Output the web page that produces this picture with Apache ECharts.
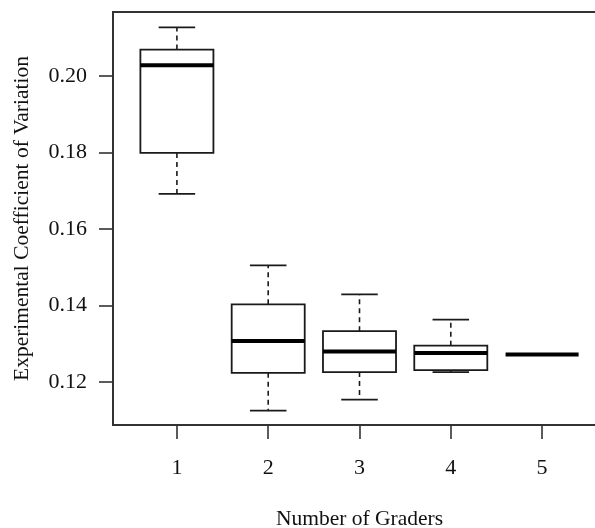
<!DOCTYPE html>
<html>
<head>
<meta charset="utf-8">
<script src="https://cdn.jsdelivr.net/npm/echarts@6/dist/echarts.min.js"></script>
<style>
html,body{margin:0;padding:0;background:#fff;}
#chart{width:595px;height:528px;}
</style>
</head>
<body>
<div id="chart"></div>
<script>
// Number of graders (categories)
var graders = [1, 2, 3, 4, 5];
// Box statistics
var whiskerLow  = [0.1692, 0.1125, 0.1154, 0.1226, 0.1272];
var q1          = [0.1799, 0.1224, 0.1226, 0.1231, 0.1272];
var median      = [0.2028, 0.1307, 0.1280, 0.1276, 0.1272];
var q3          = [0.2069, 0.1403, 0.1333, 0.1295, 0.1272];
var whiskerHigh = [0.2127, 0.1505, 0.1429, 0.1363, 0.1272];
// Tick labels
var yTicks = [0.12, 0.14, 0.16, 0.18, 0.20];
var xTicks = [1, 2, 3, 4, 5];

var data = graders.map(function (g, i) {
  return [g, whiskerLow[i], q1[i], median[i], q3[i], whiskerHigh[i]];
});

var FONT = '"Liberation Serif", "DejaVu Serif", serif';
var LINE = '#1a1a1a';

function renderItem(params, api) {
  var x = api.value(0);
  var lo = api.coord([x, api.value(1)]);
  var b1 = api.coord([x, api.value(2)]);
  var md = api.coord([x, api.value(3)]);
  var b3 = api.coord([x, api.value(4)]);
  var hi = api.coord([x, api.value(5)]);
  var left = api.coord([x - 0.4, api.value(3)])[0];
  var right = api.coord([x + 0.4, api.value(3)])[0];
  var capL = api.coord([x - 0.2, api.value(3)])[0];
  var capR = api.coord([x + 0.2, api.value(3)])[0];
  var cx = md[0];
  var children = [];
  var boxH = b1[1] - b3[1];
  if (boxH > 0.5) {
    children.push({
      type: 'rect',
      shape: { x: left, y: b3[1], width: right - left, height: boxH },
      style: { fill: '#fff', stroke: LINE, lineWidth: 1.8 }
    });
  }
  if (hi[1] < b3[1] - 0.5) {
    children.push({
      type: 'line',
      shape: { x1: cx, y1: b3[1], x2: cx, y2: hi[1] },
      style: { stroke: LINE, lineWidth: 1.6, lineDash: [5, 4] }
    });
    children.push({
      type: 'line',
      shape: { x1: capL, y1: hi[1], x2: capR, y2: hi[1] },
      style: { stroke: LINE, lineWidth: 1.8 }
    });
  }
  if (lo[1] > b1[1] + 0.3) {
    children.push({
      type: 'line',
      shape: { x1: cx, y1: b1[1], x2: cx, y2: lo[1] },
      style: { stroke: LINE, lineWidth: 1.6, lineDash: [5, 4] }
    });
    children.push({
      type: 'line',
      shape: { x1: capL, y1: lo[1], x2: capR, y2: lo[1] },
      style: { stroke: LINE, lineWidth: 1.8 }
    });
  }
  children.push({
    type: 'line',
    shape: { x1: left, y1: md[1], x2: right, y2: md[1] },
    style: { stroke: '#000', lineWidth: 4 }
  });
  return { type: 'group', children: children };
}

var chart = echarts.init(document.getElementById('chart'), null, { renderer: 'canvas' });
chart.setOption({
  animation: false,
  backgroundColor: '#fff',
  grid: {
    show: true,
    left: 113, top: 12, width: 493, height: 413,
    outerBoundsMode: 'none',
    containLabel: false,
    borderColor: '#333', borderWidth: 2,
    backgroundColor: 'transparent'
  },
  xAxis: {
    type: 'value',
    min: 0.3, max: 5.7,
    name: 'Number of Graders',
    nameLocation: 'middle',
    nameGap: 83,
    nameTextStyle: { fontFamily: FONT, fontSize: 21.5, color: '#111' },
    axisLine: { show: false },
    splitLine: { show: false },
    axisTick: { show: true, length: 14, customValues: xTicks, lineStyle: { color: '#333', width: 1.6 } },
    axisLabel: { customValues: xTicks, margin: 32, fontFamily: FONT, fontSize: 22, color: '#111' }
  },
  yAxis: {
    type: 'value',
    min: 0.10876, max: 0.21673,
    name: 'Experimental Coefficient of Variation',
    nameLocation: 'middle',
    nameGap: 80,
    nameTextStyle: { fontFamily: FONT, fontSize: 21.5, color: '#111' },
    axisLine: { show: false },
    splitLine: { show: false },
    axisTick: { show: true, length: 14, customValues: yTicks, lineStyle: { color: '#333', width: 1.6 } },
    axisLabel: {
      customValues: yTicks, margin: 26, fontFamily: FONT, fontSize: 22, color: '#111',
      formatter: function (v) { return v.toFixed(2); }
    }
  },
  series: [{
    type: 'custom',
    renderItem: renderItem,
    encode: { x: 0, y: [1, 2, 3, 4, 5] },
    data: data,
    clip: false
  }]
});
</script>
</body>
</html>
